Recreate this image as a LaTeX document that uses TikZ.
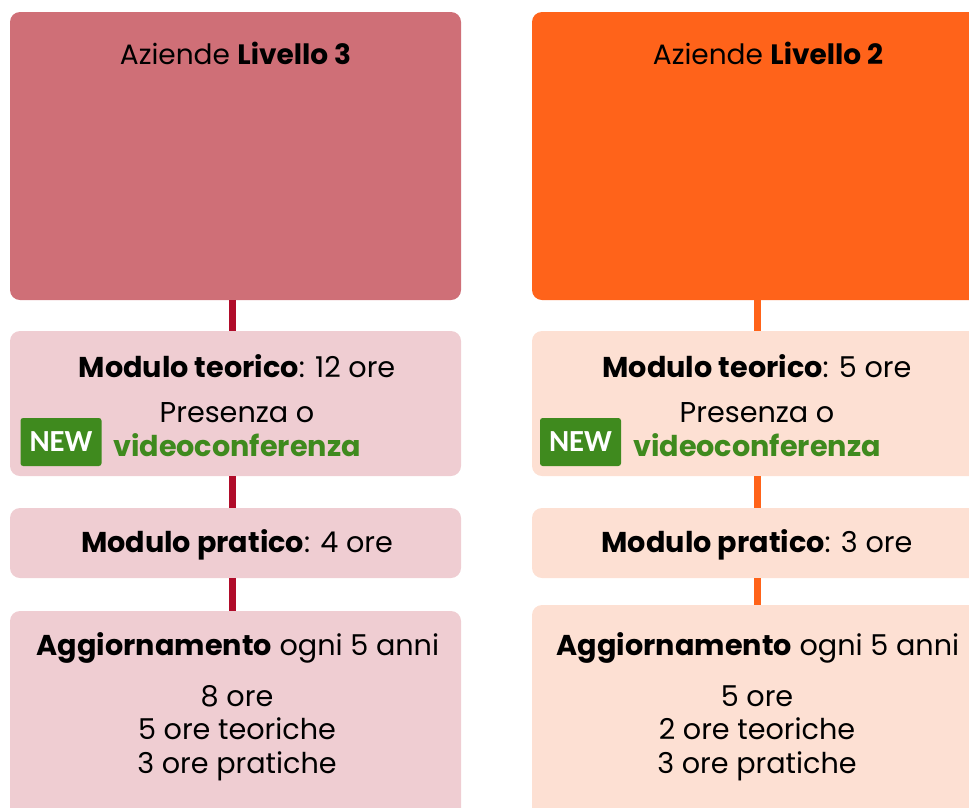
\documentclass[tikz,border=0pt]{standalone}
\usepackage{fontspec}
\setmainfont{Poppins}
\newfontfamily\badgefont{Carlito}
\usetikzlibrary{positioning}

\definecolor{topTre}{RGB}{207,111,119}
\definecolor{topDue}{RGB}{255,99,26}
\definecolor{softTre}{RGB}{239,205,210}
\definecolor{softDue}{RGB}{253,224,211}
\definecolor{lineTre}{RGB}{176,12,42}
\definecolor{lineDue}{RGB}{255,99,25}
\definecolor{newGreen}{RGB}{63,138,30}

\tikzset{
  box/.style={rounded corners=7.5pt, minimum width=338.25pt, inner sep=0pt},
  headbox/.style={box, minimum height=216pt},
  teobox/.style={box, minimum height=108.75pt},
  prabox/.style={box, minimum height=52.5pt},
  aggbox/.style={box, minimum height=165pt},
  txt/.style={font=\fontsize{21.5}{25}\selectfont, align=center, inner sep=0pt},
  badge/.style={fill=newGreen, rounded corners=2pt, minimum width=60.75pt,
    minimum height=36pt, inner sep=0pt, text=white,
    font=\badgefont\bfseries\fontsize{23}{24}\selectfont},
  linkTre/.style={draw=lineTre, line width=5.25pt},
  linkDue/.style={draw=lineDue, line width=5.25pt}
}

\begin{document}
\begin{tikzpicture}[x=0.75pt, y=-0.75pt]
  \useasboundingbox (0,0) rectangle (969,807);

  % Livello 3 column
  \node[headbox, fill=topTre]  (head3) at (235.5,156) {};
  \node[teobox,  fill=softTre] (teo3)  at (235.5,403.5) {};
  \node[prabox,  fill=softTre] (pra3)  at (235.5,543) {};
  \node[aggbox,  fill=softTre] (agg3)  at (235.5,721) {};

  % Livello 2 column
  \node[headbox, fill=topDue]  (head2) at (757.5,156) {};
  \node[teobox,  fill=softDue] (teo2)  at (757.5,403.5) {};
  \node[prabox,  fill=softDue] (pra2)  at (757.5,543) {};
  \node[aggbox,  fill=softDue] (agg2)  at (757.5,715) {};

  % links
  \draw[linkTre] ([xshift=-2.6pt]head3.south) -- ([xshift=-2.6pt]teo3.north);
  \draw[linkTre] ([xshift=-2.6pt]teo3.south) -- ([xshift=-2.6pt]pra3.north);
  \draw[linkTre] ([xshift=-2.6pt]pra3.south) -- ([xshift=-2.6pt]agg3.north);
  \draw[linkDue] (head2) -- (teo2);
  \draw[linkDue] (teo2) -- (pra2);
  \draw[linkDue] (pra2) -- (agg2);

  % texts, Livello 3
  \node[txt, font=\fontsize{21}{25}\selectfont] (title3) at (235.5,53) {Aziende \textbf{Livello 3}};
  \node[txt] (teoA3) at (237,366) {\textbf{Modulo teorico}: 12 ore};
  \node[txt] (teoB3) at (237,413) {Presenza o};
  \node[txt, text=newGreen] (teoC3) at (237,445) {\textbf{videoconferenza}};
  \node[badge] (new3) at (61,442) {NEW};
  \node[txt] (praA3) at (237,545) {\textbf{Modulo pratico}: 4 ore};
  \node[txt] (aggA3) at (238,648) {\textbf{Aggiornamento} ogni 5 anni};
  \node[txt] (aggB3) at (237,733)
    {8 ore\\5 ore teoriche\\3 ore pratiche};

  % texts, Livello 2
  \node[txt, font=\fontsize{21}{25}\selectfont] (title2) at (768,53) {Aziende \textbf{Livello 2}};
  \node[txt] (teoA2) at (757,366) {\textbf{Modulo teorico}: 5 ore};
  \node[txt] (teoB2) at (757,413) {Presenza o};
  \node[txt, text=newGreen] (teoC2) at (757,445) {\textbf{videoconferenza}};
  \node[badge] (new2) at (580.5,442) {NEW};
  \node[txt] (praA2) at (757,545) {\textbf{Modulo pratico}: 3 ore};
  \node[txt] (aggA2) at (758,648) {\textbf{Aggiornamento} ogni 5 anni};
  \node[txt] (aggB2) at (757,733)
    {5 ore\\2 ore teoriche\\3 ore pratiche};
\end{tikzpicture}
\end{document}
